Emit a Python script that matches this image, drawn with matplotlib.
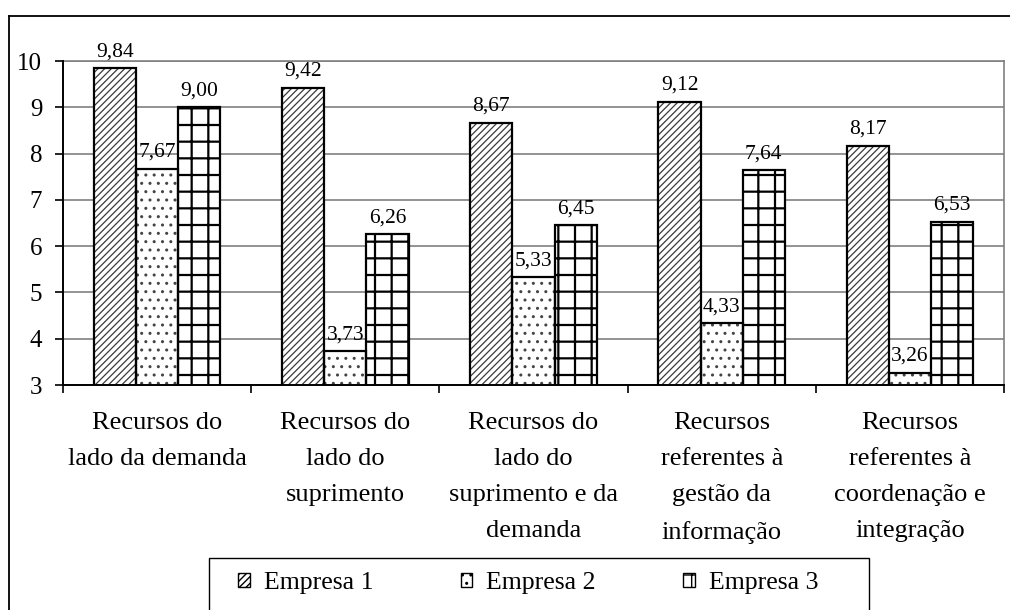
import matplotlib
matplotlib.use("Agg")
import matplotlib.pyplot as plt
from matplotlib.patches import Patch, Rectangle
from matplotlib.lines import Line2D
import numpy as np

# Data
categories = [
    "Recursos do\nlado da demanda",
    "Recursos do\nlado do\nsuprimento",
    "Recursos do\nlado do\nsuprimento e da\ndemanda",
    "Recursos\nreferentes à\ngestão da\ninformação",
    "Recursos\nreferentes à\ncoordenação e\nintegração",
]
series_names = ["Empresa 1", "Empresa 2", "Empresa 3"]
empresa1 = [9.84, 9.42, 8.67, 9.12, 8.17]
empresa2 = [7.67, 3.73, 5.33, 4.33, 3.26]
empresa3 = [9.00, 6.26, 6.45, 7.64, 6.53]
y_ticks = [3, 4, 5, 6, 7, 8, 9, 10]

plt.rcParams['font.family'] = ['Liberation Serif', 'DejaVu Serif']
plt.rcParams['hatch.linewidth'] = 1.0

W, H = 1010, 610
fig = plt.figure(figsize=(W / 100, H / 100), dpi=100)
fig.patch.set_facecolor('white')

# Outer chart frame (left and top edges visible)
fig.add_artist(Line2D([9 / W, 9 / W], [0, 1 - 16 / H], transform=fig.transFigure,
                      color='black', lw=1.3))
fig.add_artist(Line2D([9 / W, 1], [1 - 16 / H, 1 - 16 / H], transform=fig.transFigure,
                      color='black', lw=1.3))

ax = fig.add_axes([63 / W, 1 - 385 / H, (1004 - 63) / W, (385 - 61) / H])

x = np.arange(len(categories))
bw = 0.224
series = [empresa1, empresa2, empresa3]
hatches = ['/////', '..', '+']
hatch_colors = ['#3a3a3a', '#444444', 'black']
hatch_widths = [0.9, 1.0, 1.6]
offsets = [-bw, 0, bw]

for vals, hatch, hc, hw, off in zip(series, hatches, hatch_colors, hatch_widths, offsets):
    with plt.rc_context({'hatch.linewidth': hw}):
        ax.bar(x + off, vals, bw, color='white', edgecolor=hc, hatch=hatch,
               linewidth=0, zorder=2)
    ax.bar(x + off, vals, bw, fill=False, edgecolor='black', linewidth=1.6, zorder=3)
    for xi, v in zip(x + off, vals):
        ax.annotate(f"{v:.2f}".replace('.', ','), (xi, v), xytext=(0, 5),
                    textcoords='offset points', ha='center', va='bottom',
                    fontsize=15.5, zorder=4)

ax.set_ylim(3, 10)
ax.set_xlim(-0.5, len(categories) - 0.5)
ax.set_yticks(y_ticks)
ax.set_yticklabels([str(t) for t in y_ticks], fontsize=18)
ax.tick_params(axis='y', length=6, width=1.2, pad=9, direction='out')

ax.set_xticks(x)
ax.set_xticklabels([])
ax.tick_params(axis='x', which='major', length=0)
ax.set_xticks(np.arange(-0.5, len(categories), 1.0), minor=True)
ax.tick_params(axis='x', which='minor', length=6, width=1.2, direction='out')

for xi, lab in zip(x, categories):
    ax.text(xi, -0.083, lab, transform=ax.get_xaxis_transform(), ha='center', va='top',
            fontsize=19, linespacing=1.83)

ax.grid(axis='y', color='#808080', linewidth=1.2, zorder=0)
ax.set_axisbelow(True)
for side in ['left', 'bottom']:
    ax.spines[side].set_color('black')
    ax.spines[side].set_linewidth(1.4)
    ax.spines[side].set_zorder(5)
for side in ['top', 'right']:
    ax.spines[side].set_color('#808080')
    ax.spines[side].set_linewidth(1.2)

# Legend box and entries
fig.add_artist(Rectangle((209 / W, -0.05), 660 / W, (1 - 558 / H) + 0.05,
                         transform=fig.transFigure, fill=False, edgecolor='black',
                         linewidth=1.0))
handles = []
for h, hc, hw in zip(hatches, hatch_colors, hatch_widths):
    with plt.rc_context({'hatch.linewidth': min(hw, 1.2)}):
        handles.append(Patch(facecolor='white', edgecolor='black', hatch=h, linewidth=1.0))
leg = fig.legend(handles, series_names, loc='upper left',
                 bbox_to_anchor=(238 / W, 1 - 572 / H), ncol=3, fontsize=18.5,
                 frameon=False, handlelength=0.45, handleheight=0.45, handletextpad=0.55,
                 columnspacing=3.4, borderpad=0, borderaxespad=0)

fig.savefig('out.png', dpi=100, facecolor='white')
